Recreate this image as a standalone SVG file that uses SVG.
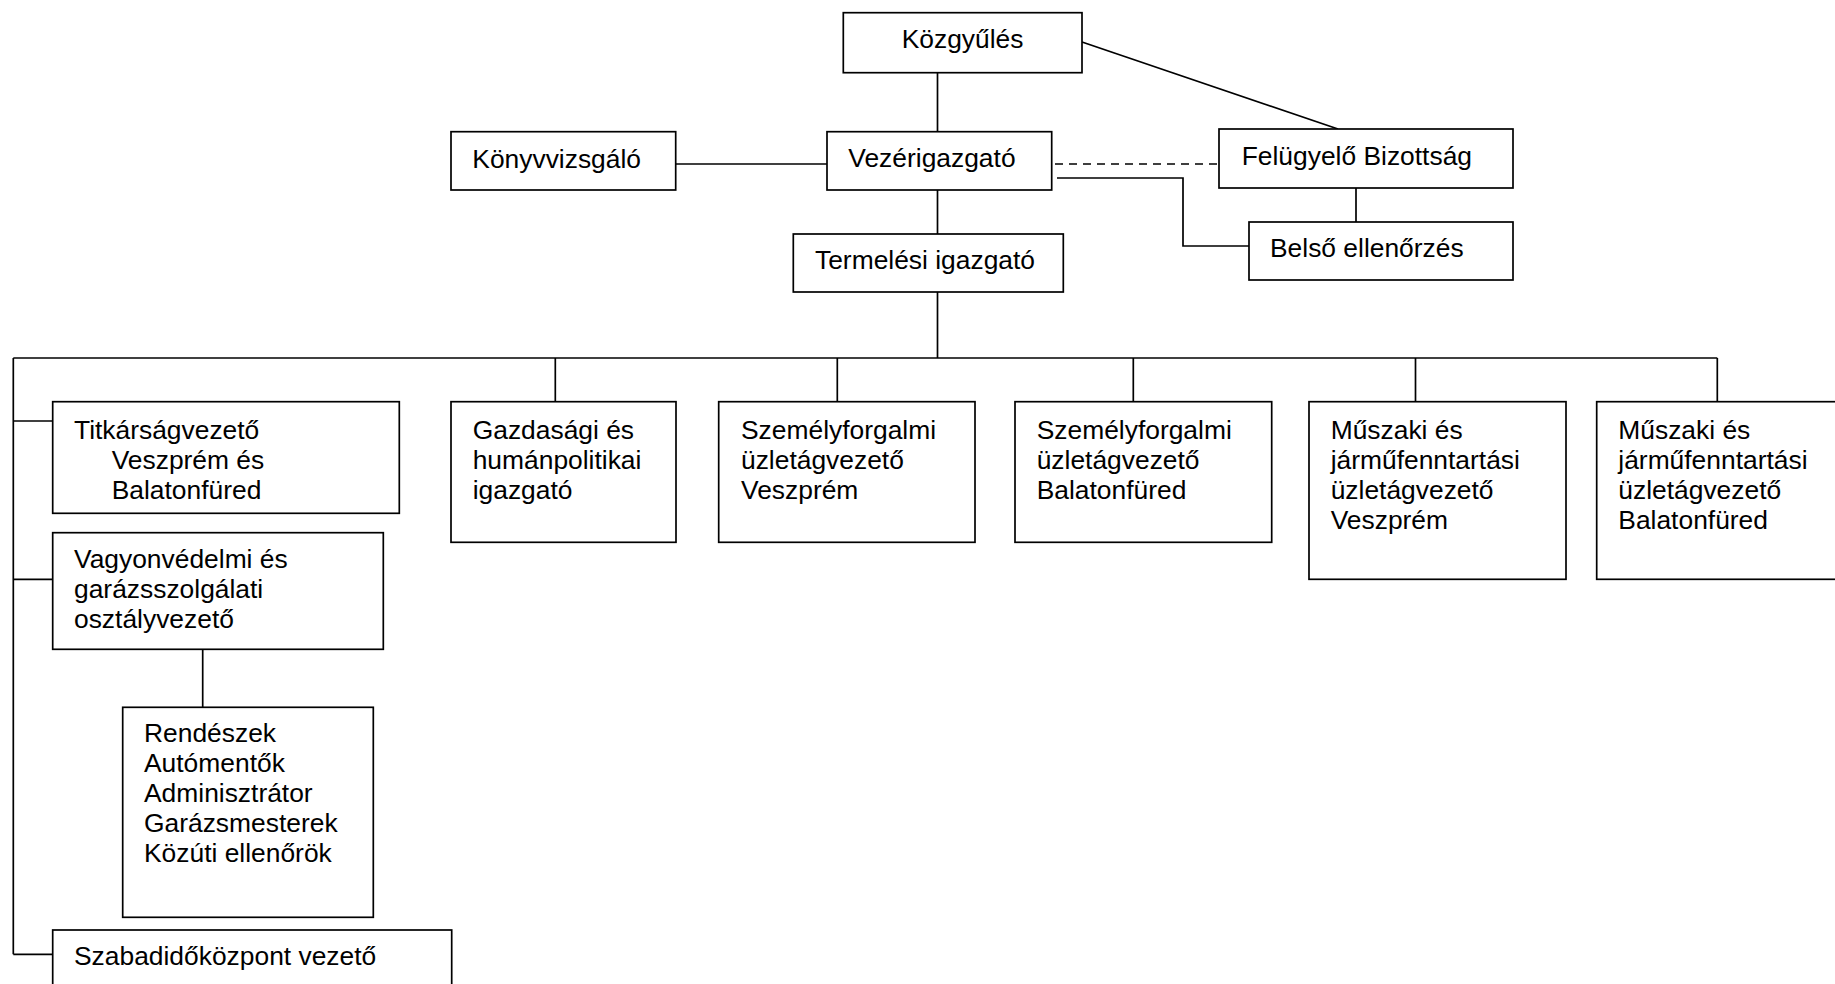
<svg xmlns="http://www.w3.org/2000/svg" width="1835" height="984" viewBox="0 0 1835 984">
<style>
  rect.box { fill: #ffffff; stroke: #000000; stroke-width: 1.7; }
  .conn line, .conn polyline { fill: none; stroke: #000000; stroke-width: 1.7; }
  .dash { stroke-dasharray: 8 6; }
  text { font-family: "Liberation Sans", Arial, sans-serif; font-size: 26.4px; fill: #000000; }
</style>
<rect x="0" y="0" width="1835" height="984" fill="#ffffff"/>
<g class="conn" id="connectors">
  <line x1="937.5" y1="73" x2="937.5" y2="132"/>
  <line x1="1082" y1="42" x2="1338" y2="129"/>
  <line x1="676" y1="164" x2="827" y2="164"/>
  <line class="dash" x1="1055" y1="164" x2="1219" y2="164"/>
  <polyline points="1057,178 1183,178 1183,246 1249,246"/>
  <line x1="1356" y1="188" x2="1356" y2="222"/>
  <line x1="937.5" y1="190" x2="937.5" y2="234"/>
  <line x1="937.5" y1="292" x2="937.5" y2="358"/>
  <line x1="13.3" y1="358" x2="1717.3" y2="358"/>
  <line x1="555.3" y1="358" x2="555.3" y2="401.7"/>
  <line x1="837.3" y1="358" x2="837.3" y2="401.7"/>
  <line x1="1133.3" y1="358" x2="1133.3" y2="401.7"/>
  <line x1="1415.5" y1="358" x2="1415.5" y2="401.7"/>
  <line x1="1717.3" y1="358" x2="1717.3" y2="401.7"/>
  <line x1="13.3" y1="358" x2="13.3" y2="954.3"/>
  <line x1="13.3" y1="421" x2="52.7" y2="421"/>
  <line x1="13.3" y1="579.3" x2="52.7" y2="579.3"/>
  <line x1="13.3" y1="954.3" x2="52.7" y2="954.3"/>
  <line x1="202.7" y1="649.3" x2="202.7" y2="707.3"/>
</g>
<g id="kozgyules">
  <rect class="box" x="843.3" y="12.7" width="238.7" height="60"/>
  <text x="901.7" y="48">Közgyűlés</text>
</g>
<g id="konyvvizsgalo">
  <rect class="box" x="451" y="131.7" width="224.7" height="58.3"/>
  <text x="472.3" y="167.5">Könyvvizsgáló</text>
</g>
<g id="vezerigazgato">
  <rect class="box" x="827" y="131.7" width="224.7" height="58.3"/>
  <text x="848.3" y="167">Vezérigazgató</text>
</g>
<g id="felugyelo">
  <rect class="box" x="1219" y="129" width="294" height="59"/>
  <text x="1241.7" y="165">Felügyelő Bizottság</text>
</g>
<g id="belso">
  <rect class="box" x="1249" y="222" width="264" height="58"/>
  <text x="1270" y="256.7">Belső ellenőrzés</text>
</g>
<g id="termelesi">
  <rect class="box" x="793.3" y="234" width="270" height="58"/>
  <text x="815" y="269.3">Termelési igazgató</text>
</g>
<g id="titkarsag">
  <rect class="box" x="52.7" y="401.7" width="346.6" height="111.6"/>
  <text x="74" y="438.5">Titkárságvezető</text>
  <text x="111.7" y="468.5">Veszprém és</text>
  <text x="111.7" y="498.5">Balatonfüred</text>
</g>
<g id="vagyonvedelmi">
  <rect class="box" x="52.7" y="532.7" width="330.6" height="116.6"/>
  <text x="74" y="568.3">Vagyonvédelmi és</text>
  <text x="74" y="598.3">garázsszolgálati</text>
  <text x="74" y="628.3">osztályvezető</text>
</g>
<g id="rendeszek">
  <rect class="box" x="122.7" y="707.3" width="250.6" height="210"/>
  <text x="144" y="742.3">Rendészek</text>
  <text x="144" y="772.3">Autómentők</text>
  <text x="144" y="802.3">Adminisztrátor</text>
  <text x="144" y="832.3">Garázsmesterek</text>
  <text x="144" y="862.3">Közúti ellenőrök</text>
</g>
<g id="szabadido">
  <rect class="box" x="52.7" y="930" width="399" height="70"/>
  <text x="74" y="965">Szabadidőközpont vezető</text>
</g>
<g id="gazdasagi">
  <rect class="box" x="451" y="401.7" width="225" height="140.6"/>
  <text x="472.7" y="438.5">Gazdasági és</text>
  <text x="472.7" y="468.5">humánpolitikai</text>
  <text x="472.7" y="498.5">igazgató</text>
</g>
<g id="szemely-veszprem">
  <rect class="box" x="718.7" y="401.7" width="256.3" height="140.6"/>
  <text x="741" y="438.5">Személyforgalmi</text>
  <text x="741" y="468.5">üzletágvezető</text>
  <text x="741" y="498.5">Veszprém</text>
</g>
<g id="szemely-balatonfured">
  <rect class="box" x="1015" y="401.7" width="256.7" height="140.6"/>
  <text x="1036.7" y="438.5">Személyforgalmi</text>
  <text x="1036.7" y="468.5">üzletágvezető</text>
  <text x="1036.7" y="498.5">Balatonfüred</text>
</g>
<g id="muszaki-veszprem">
  <rect class="box" x="1309" y="401.7" width="257" height="177.6"/>
  <text x="1330.7" y="438.5">Műszaki és</text>
  <text x="1330.7" y="468.5">járműfenntartási</text>
  <text x="1330.7" y="498.5">üzletágvezető</text>
  <text x="1330.7" y="528.5">Veszprém</text>
</g>
<g id="muszaki-balatonfured">
  <rect class="box" x="1596.7" y="401.7" width="250" height="177.6"/>
  <text x="1618.3" y="438.5">Műszaki és</text>
  <text x="1618.3" y="468.5">járműfenntartási</text>
  <text x="1618.3" y="498.5">üzletágvezető</text>
  <text x="1618.3" y="528.5">Balatonfüred</text>
</g>
</svg>
